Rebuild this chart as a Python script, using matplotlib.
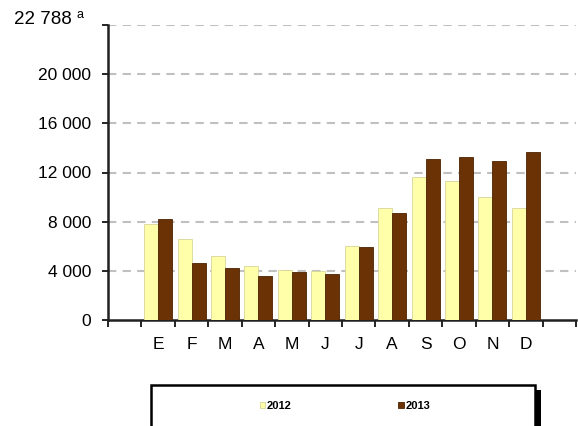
import matplotlib.pyplot as plt
import matplotlib.patches as mpatches
import numpy as np

# meses (com categorias vazias nas pontas, como no original)
meses = ['', 'E', 'F', 'M', 'A', 'M', 'J', 'J', 'A', 'S', 'O', 'N', 'D', '']
valores_2012 = [7800, 6600, 5200, 4400, 4100, 4000, 6050, 9100, 11600, 11300, 10000, 9100]
valores_2013 = [8200, 4600, 4200, 3550, 3900, 3780, 5950, 8700, 13100, 13250, 12950, 13700]
yticks = [0, 4000, 8000, 12000, 16000, 20000, 24000]
ytick_labels = ['0', '4 000', '8 000', '12 000', '16 000', '20 000', '']
rotulo_topo = '22 788'

cor_2012 = '#FFFFAA'
cor_2013 = '#6B3205'

plt.rcParams['font.family'] = ['Liberation Sans', 'DejaVu Sans']

fig = plt.figure(figsize=(5.78, 4.26), dpi=100)
ax = fig.add_axes([108/578, 1 - 320/426, 468/578, 295/426])

x = np.arange(1, len(valores_2012) + 1)
largura = 0.42
b1 = ax.bar(x - largura/2, valores_2012, largura, color=cor_2012, edgecolor='#D6D69A',
            linewidth=0.6, label='2012', zorder=3)
b2 = ax.bar(x + largura/2, valores_2013, largura, color=cor_2013, edgecolor='#4A2200',
            linewidth=0.6, label='2013', zorder=3)

ax.set_xlim(-0.5, len(meses) - 0.5)
ax.set_ylim(0, 24000)

# ticks nas fronteiras, rotulos no centro
ax.set_xticks(np.arange(-0.5, len(meses), 1.0))
ax.set_xticklabels([])
ax.set_xticks(np.arange(len(meses)), minor=True)
ax.set_xticklabels(meses, minor=True, fontsize=12.5)
ax.tick_params(axis='x', which='major', length=5, width=1.2, direction='out')
ax.tick_params(axis='x', which='minor', length=0, pad=12)

ax.set_yticks(yticks)
ax.set_yticklabels(ytick_labels, fontsize=12.5)
ax.tick_params(axis='y', length=4, width=1.2, pad=8)

for v in yticks[1:]:
    ax.axhline(v, color='#C0C0C0', linestyle=(0, (4, 3)), linewidth=1.5, zorder=1)

for lado in ['top', 'right']:
    ax.spines[lado].set_visible(False)
for lado in ['left', 'bottom']:
    ax.spines[lado].set_linewidth(1.8)
    ax.spines[lado].set_color('#202020')

# rotulo do topo do eixo
fig.text(72/578, 1 - 20/426, rotulo_topo, ha='right', va='center', fontsize=13.5)
fig.text(77/578, 1 - 15/426, 'a', ha='left', va='center', fontsize=9)

# caixa da legenda com sombra
sombra = mpatches.Rectangle((535/578, 0), 6/578, 1 - 390/426, transform=fig.transFigure,
                            facecolor='black', edgecolor='none', zorder=0)
caixa = mpatches.Rectangle((151/578, -0.05), 384/578, 1 - 385/426 + 0.05, transform=fig.transFigure,
                           facecolor='white', edgecolor='black', linewidth=1.8, zorder=1)
fig.patches.extend([sombra, caixa])

fig.legend(handles=[b1, b2], loc='center', bbox_to_anchor=(345/578, 1 - 406/426),
           ncol=2, frameon=False, handlelength=0.5, handleheight=0.5, handletextpad=0.15,
           columnspacing=9.6, prop={'weight': 'bold', 'size': 8})

plt.savefig('out.png', dpi=100)
